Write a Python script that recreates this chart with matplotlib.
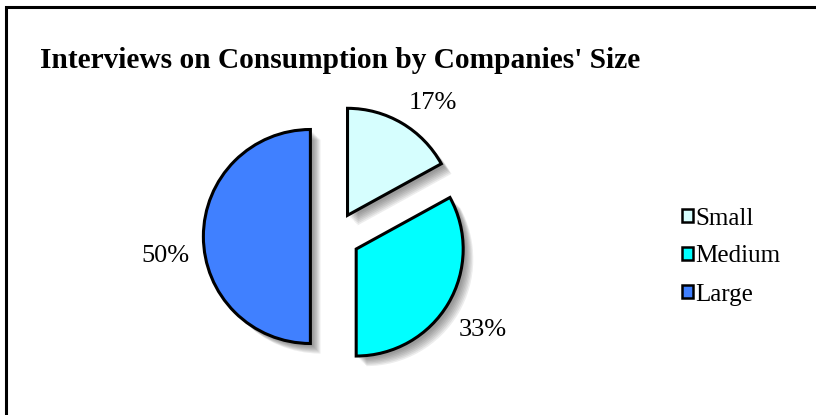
import matplotlib
matplotlib.use("Agg")
import matplotlib.pyplot as plt
from matplotlib.patches import Shadow, Rectangle, Patch

categories = ["Small", "Medium", "Large"]
values = [17, 33, 50]
colors = ["#D6FEFE", "#00FFFF", "#4080FF"]
title = "Interviews on Consumption by Companies' Size"

plt.rcParams['font.family'] = ['Liberation Serif', 'DejaVu Serif']

W, H = 816, 415
fig = plt.figure(figsize=(W / 100, H / 100), dpi=100)

# pie axes: whole figure, data unit = pie radius in px
R = 107.0
cx, cy = 335.0, 236.5
ax = fig.add_axes([0, 0, 1, 1])
wedges, texts, autotexts = ax.pie(
    values, colors=colors, startangle=90, counterclock=False,
    explode=[0.23, 0.23, 0.23], autopct='%1.0f%%', pctdistance=1.36,
    wedgeprops=dict(edgecolor='black', linewidth=2.2),
    textprops=dict(fontsize=19, color='black'))
# label nudges in pixels (style)
label_nudges = [(11, -13), (1, -7), (1, -20)]
for t, (dx, dy) in zip(autotexts, label_nudges):
    x, y = t.get_position()
    t.set_position((x + dx / R, y + dy / R))
for w in wedges:
    w.set_zorder(3)
    for k in range(1, 8):
        off = 0.008 * k
        s = Shadow(w, off + 0.012, -off - 0.012, alpha=0.085, facecolor='#303030', edgecolor='none')
        s.set_zorder(1)
        ax.add_patch(s)
ax.set_xlim(-cx / R, (W - cx) / R)
ax.set_ylim((cy - H) / R, cy / R)
ax.set_aspect('auto')
ax.axis('off')

fig.text(40 / W, 1 - 68 / H, title, fontsize=21.2, fontweight='bold', ha='left', va='baseline')

handles = [Patch(facecolor=c, edgecolor='black', linewidth=1.8) for c in colors]
fig.legend(handles, categories, loc='upper left', bbox_to_anchor=(682 / W, 1 - 207.5 / H),
           frameon=False, fontsize=18, handlelength=0.42, handleheight=0.45,
           handletextpad=0.12, labelspacing=0.64, borderpad=0, borderaxespad=0)

fig.patches.append(Rectangle((6 / W, -0.1), 1.2, (H - 7.5) / H + 0.1, transform=fig.transFigure,
                             fill=False, edgecolor='black', linewidth=2.2))

fig.savefig("out.png", dpi=100)
